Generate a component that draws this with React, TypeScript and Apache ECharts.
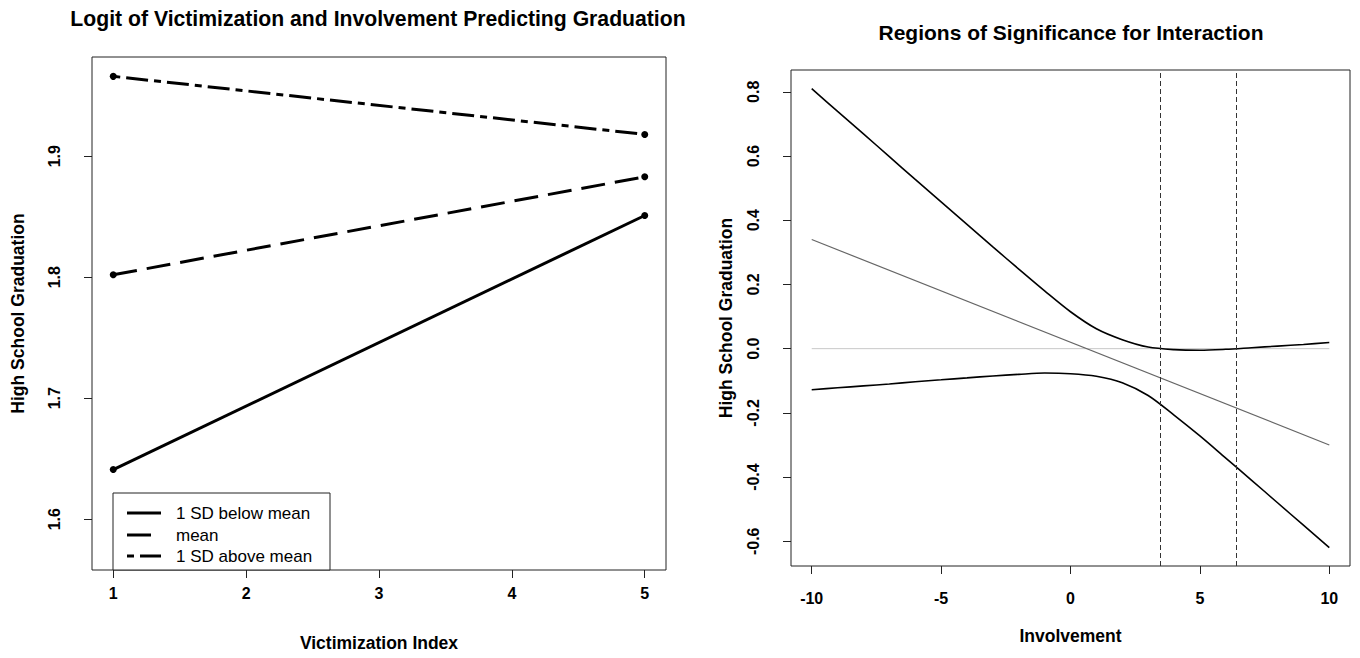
import React, { useEffect, useRef } from "react";
import * as echarts from "echarts";

// ---------- Left panel data ----------
const victimX = [1, 5];
const belowMean = [1.641, 1.851];
const atMean = [1.802, 1.883];
const aboveMean = [1.966, 1.918];
const legendNames = ["1 SD below mean", "mean", "1 SD above mean"];
const leftXTicks = [1, 2, 3, 4, 5];
const leftYTicks = [1.6, 1.7, 1.8, 1.9];

// ---------- Right panel data ----------
const involvement = [-10, -9, -8, -7, -6, -5, -4, -3, -2, -1, 0, 1, 2, 3, 4, 5, 6, 7, 8, 9, 10];
const upperBound = [0.81, 0.739, 0.669, 0.598, 0.527, 0.457, 0.387, 0.317, 0.248, 0.18, 0.115, 0.062, 0.028, 0.005, -0.003, -0.005, -0.002, 0.003, 0.008, 0.013, 0.019];
const lowerBound = [-0.128, -0.122, -0.116, -0.11, -0.103, -0.097, -0.091, -0.085, -0.08, -0.076, -0.078, -0.086, -0.106, -0.146, -0.207, -0.272, -0.341, -0.41, -0.48, -0.55, -0.62];
const slopeX = [-10, 10];
const slopeY = [0.34, -0.3];
const zeroX = [-10, 10];
const zeroY = [0, 0];
const jnBounds = [3.45, 6.4];
const rightXTicks = [-10, -5, 0, 5, 10];
const rightYTicks = [-0.6, -0.4, -0.2, 0, 0.2, 0.4, 0.6, 0.8];

const FONT = "Liberation Sans";
const TICK_FS = 16;
const NAME_FS = 17.5;
const TITLE_FS = 21.2;

const pairs = (xs: number[], ys: number[]) => xs.map((x, i) => [x, ys[i]]);

function xAxisCfg(gridIndex: number, min: number, max: number, ticks: number[], name: string, nameGap: number, margin: number) {
  return {
    type: "value",
    gridIndex,
    min,
    max,
    name,
    nameLocation: "middle",
    nameGap,
    nameTextStyle: { fontFamily: FONT, fontWeight: "bold", fontSize: NAME_FS, color: "#000" },
    axisLine: { show: false, onZero: false },
    axisTick: { show: true, length: 8, customValues: ticks, lineStyle: { color: "#222", width: 1 } },
    axisLabel: {
      customValues: ticks,
      margin,
      fontFamily: FONT,
      fontWeight: "bold",
      fontSize: TICK_FS,
      color: "#000",
      formatter: (v: number) => String(Math.round(v)),
    },
    splitLine: { show: false },
  };
}

function yAxisCfg(gridIndex: number, min: number, max: number, ticks: number[], name: string, nameGap: number, margin: number) {
  return {
    type: "value",
    gridIndex,
    min,
    max,
    name,
    nameLocation: "middle",
    nameGap,
    nameRotate: 90,
    nameTextStyle: { fontFamily: FONT, fontWeight: "bold", fontSize: NAME_FS, color: "#000" },
    axisLine: { show: false, onZero: false },
    axisTick: { show: true, length: 8, customValues: ticks, lineStyle: { color: "#222", width: 1 } },
    axisLabel: {
      customValues: ticks,
      rotate: 90,
      margin,
      fontFamily: FONT,
      fontWeight: "bold",
      fontSize: TICK_FS,
      color: "#000",
      formatter: (v: number) => v.toFixed(1),
    },
    splitLine: { show: false },
  };
}

const dashPatterns: (number[] | string)[] = ["solid", [24, 10], [7, 6, 22, 6]];

export default function App() {
  const ref = useRef<HTMLDivElement>(null);

  useEffect(() => {
    if (!ref.current) return;
    const chart = echarts.init(ref.current, null, { renderer: "svg" });

    const leftSeries = [belowMean, atMean, aboveMean].map((vals, i) => ({
      type: "line",
      name: legendNames[i],
      xAxisIndex: 0,
      yAxisIndex: 0,
      data: pairs(victimX, vals),
      symbol: "circle",
      symbolSize: 7,
      showSymbol: true,
      itemStyle: { color: "#000" },
      lineStyle: { color: "#000", width: 3, type: dashPatterns[i] },
      silent: true,
    }));

    const legendRowsY = [513, 535, 556];
    const legendGraphics: any[] = [
      {
        type: "rect",
        z: 100,
        shape: { x: 113, y: 493, width: 217, height: 77 },
        style: { fill: "#fff", stroke: "#222", lineWidth: 1 },
      },
    ];
    legendNames.forEach((nm, i) => {
      const dash = dashPatterns[i];
      legendGraphics.push({
        type: "line",
        z: 101,
        shape: { x1: 127, y1: legendRowsY[i], x2: 161, y2: legendRowsY[i] },
        style: {
          stroke: "#000",
          lineWidth: 3,
          lineDash: Array.isArray(dash) ? dash : null,
        },
      });
      legendGraphics.push({
        type: "text",
        z: 101,
        x: 176,
        y: legendRowsY[i],
        style: {
          text: nm,
          fill: "#000",
          font: `17px "${FONT}"`,
          textVerticalAlign: "middle",
          textAlign: "left",
        },
      });
    });

    const option: any = {
      animation: false,
      backgroundColor: "#fff",
      grid: [
        { left: 92, top: 57, width: 574, height: 513, show: true, borderColor: "#222", borderWidth: 1, backgroundColor: "transparent" },
        { left: 791, top: 70, width: 559, height: 496, show: true, borderColor: "#222", borderWidth: 1, backgroundColor: "transparent" },
      ],
      xAxis: [
        xAxisCfg(0, 0.84, 5.16, leftXTicks, "Victimization Index", 64, 15),
        xAxisCfg(1, -10.8, 10.8, rightXTicks, "Involvement", 61, 24),
      ],
      yAxis: [
        yAxisCfg(0, 1.558, 1.982, leftYTicks, "High School Graduation", 65, 30),
        yAxisCfg(1, -0.677, 0.868, rightYTicks, "High School Graduation", 56, 30),
      ],
      graphic: [
        {
          type: "text",
          x: 378,
          y: 18,
          style: {
            text: "Logit of Victimization and Involvement Predicting Graduation",
            fill: "#000",
            font: `bold ${TITLE_FS}px "${FONT}"`,
            textAlign: "center",
            textVerticalAlign: "middle",
          },
        },
        {
          type: "text",
          x: 1071,
          y: 32,
          style: {
            text: "Regions of Significance for Interaction",
            fill: "#000",
            font: `bold 21px "${FONT}"`,
            textAlign: "center",
            textVerticalAlign: "middle",
          },
        },
        ...legendGraphics,
      ],
      series: [
        ...leftSeries,
        {
          type: "line",
          name: "zero",
          xAxisIndex: 1,
          yAxisIndex: 1,
          data: pairs(zeroX, zeroY),
          showSymbol: false,
          symbol: "none",
          lineStyle: { color: "#c8c8c8", width: 1 },
          silent: true,
        },
        {
          type: "line",
          name: "slope",
          xAxisIndex: 1,
          yAxisIndex: 1,
          data: pairs(slopeX, slopeY),
          symbol: "none",
          lineStyle: { color: "#666", width: 1.2 },
          silent: true,
        },
        {
          type: "line",
          name: "upper",
          xAxisIndex: 1,
          yAxisIndex: 1,
          data: pairs(involvement, upperBound),
          symbol: "none",
          smooth: 0.3,
          lineStyle: { color: "#000", width: 1.6 },
          silent: true,
          markLine: {
            silent: true,
            symbol: ["none", "none"],
            label: { show: false },
            lineStyle: { color: "#333", width: 1, type: [5, 3] },
            data: jnBounds.map((v) => ({ xAxis: v })),
          },
        },
        {
          type: "line",
          name: "lower",
          xAxisIndex: 1,
          yAxisIndex: 1,
          data: pairs(involvement, lowerBound),
          symbol: "none",
          smooth: 0.3,
          lineStyle: { color: "#000", width: 1.6 },
          silent: true,
        },
      ],
    };

    chart.setOption(option);
    return () => chart.dispose();
  }, []);

  return (
    <div
      ref={ref}
      style={{ position: "fixed", left: 0, top: 0, width: 1360, height: 658, background: "#fff" }}
    />
  );
}
